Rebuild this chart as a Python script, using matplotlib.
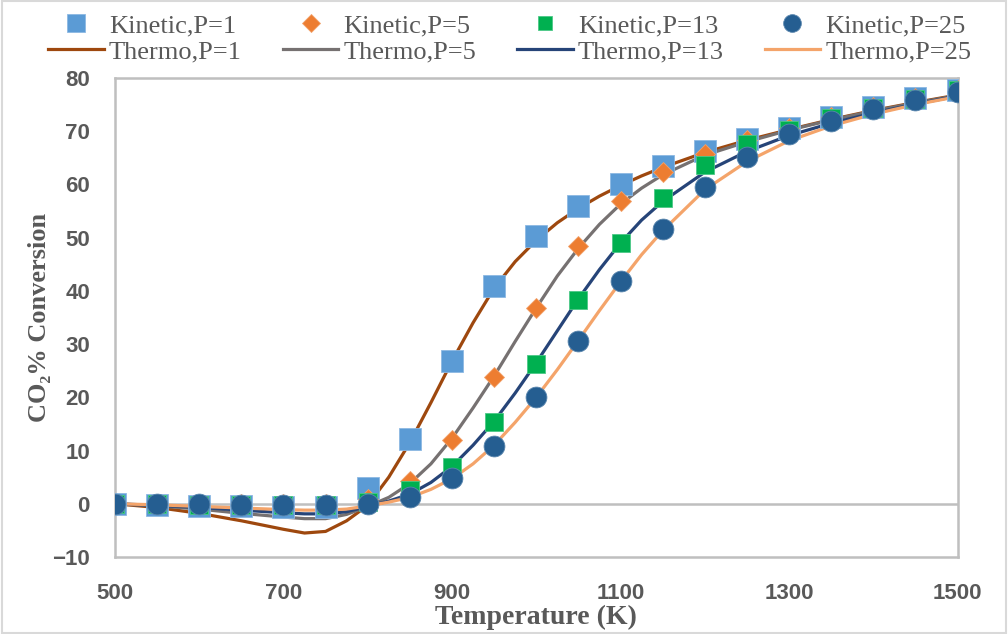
import matplotlib
matplotlib.use("Agg")
import matplotlib.pyplot as plt
from matplotlib.patches import Rectangle

# kinetic model points (K)
kin_T = [500, 550, 600, 650, 700, 750, 800, 850, 900, 950, 1000, 1050,
         1100, 1150, 1200, 1250, 1300, 1350, 1400, 1450, 1500]
kin_p1 = [0, -0.2, -0.5, -0.5, -0.7, -0.7, 3, 12.2, 26.9, 40.9, 50.4, 56,
          60, 63.4, 66.3, 68.6, 70.6, 72.6, 74.5, 76.2, 77.8]
kin_p5 = [0, 0, 0, 0, 0, 0, 0.8, 4.3, 12, 23.8, 36.8, 48.5,
          56.8, 62.3, 65.8, 68.4, 70.6, 72.6, 74.5, 76.2, 77.8]
kin_p13 = [0, 0, -0.2, -0.2, -0.3, -0.3, 0.3, 2.6, 6.9, 15.4, 26.3, 38.3,
           49, 57.5, 63.6, 67.6, 70.3, 72.5, 74.4, 76.1, 77.7]
kin_p25 = [0, 0, 0, -0.2, -0.3, -0.3, 0, 1.2, 4.8, 10.9, 20.1, 30.6,
           41.8, 51.6, 59.6, 65.1, 69.4, 72, 74.1, 75.9, 77.4]

# thermodynamic equilibrium curves
thermo_T = [500, 550, 600, 650, 700, 725, 750, 775, 800, 825, 850, 875, 900,
            925, 950, 975, 1000, 1025, 1050, 1075, 1100, 1125, 1150, 1200,
            1250, 1300, 1350, 1400, 1450, 1500]
thermo_p1 = [0, -0.7, -1.8, -3.2, -4.8, -5.5, -5.2, -3.2, -0.3, 5, 11.5, 19,
             26.8, 34, 40.5, 45.5, 49.5, 52.8, 55.5, 57.8, 59.8, 61.6, 63.2,
             66, 68.3, 70.3, 72.2, 73.9, 75.4, 76.8]
thermo_p5 = [0, -0.4, -1, -1.8, -2.5, -2.8, -2.8, -2, -0.5, 1.2, 3.8, 7.5,
             12.3, 18, 24, 30.5, 36.8, 42.8, 48, 52.5, 56.3, 59.3, 61.8,
             65.5, 68, 70.2, 72.1, 73.8, 75.3, 76.7]
thermo_p13 = [0, -0.3, -0.7, -1.2, -1.7, -1.9, -1.9, -1.5, -0.5, 0.5, 1.8, 4,
              7, 11, 15.5, 20.8, 26.5, 32.5, 38.5, 44, 49, 53.3, 56.8,
              62.3, 66.2, 69.2, 71.5, 73.4, 75.1, 76.6]
thermo_p25 = [0, -0.2, -0.5, -0.8, -1.1, -1.2, -1.2, -1, -0.4, 0.3, 1.2, 2.7,
              4.7, 7.5, 11, 15.3, 20, 25.2, 30.7, 36.3, 41.7, 46.8, 51.3,
              59, 64.3, 68.2, 71, 73.2, 75, 76.5]

x_ticks = [500, 700, 900, 1100, 1300, 1500]
y_ticks = [-10, 0, 10, 20, 30, 40, 50, 60, 70, 80]

TXT = "#595959"
GRID = "#BFBFBF"
serif = ["Liberation Serif", "DejaVu Serif"]

fig = plt.figure(figsize=(10.08, 6.34), dpi=100)
ax = fig.add_axes([0.114, 0.1215, 0.836, 0.7555])

lw = 2.3
l1, = ax.plot(thermo_T, thermo_p1, color="#9E480E", lw=lw, zorder=3)
l5, = ax.plot(thermo_T, thermo_p5, color="#767171", lw=lw, zorder=3)
l13, = ax.plot(thermo_T, thermo_p13, color="#264478", lw=lw, zorder=3)
l25, = ax.plot(thermo_T, thermo_p25, color="#F4A46A", lw=lw, zorder=3)

k1, = ax.plot(kin_T, kin_p1, "s", ms=15.5, color="#5B9BD5", mec="#8CB8E3", mew=0.6, zorder=5)
k5, = ax.plot(kin_T, kin_p5, "D", ms=10.5, color="#ED7D31", mec="#F2A26B", mew=0.6, zorder=6)
k13, = ax.plot(kin_T, kin_p13, "s", ms=12.5, color="#00B050", mec="#4CC887", mew=0.6, zorder=7)
k25, = ax.plot(kin_T, kin_p25, "o", ms=15, color="#255E91", mec="#5A86AE", mew=0.6, zorder=8)

ax.axhline(0, color=GRID, lw=1.8, zorder=1)
ax.set_xlim(500, 1500)
ax.set_ylim(-10, 80)
ax.set_xticks(x_ticks)
ax.set_yticks(y_ticks)
for s in ax.spines.values():
    s.set_color(GRID)
    s.set_linewidth(1.8)
ax.tick_params(length=0, labelsize=16, labelcolor=TXT)
ax.tick_params(axis="x", pad=19)
ax.tick_params(axis="y", pad=18)
for lab in ax.get_xticklabels() + ax.get_yticklabels():
    lab.set_fontweight("bold")
    lab.set_family(["Liberation Sans", "DejaVu Sans"])

ax.set_xlabel("Temperature (K)", family=serif, fontsize=20, fontweight="bold",
              color=TXT, labelpad=0)
ax.set_ylabel("CO\u2082% Conversion", family=serif, fontsize=19, fontweight="bold",
              color=TXT, labelpad=1)

handles = [k1, l1, k5, l5, k13, l13, k25, l25]
labels = ["Kinetic,P=1", "Thermo,P=1", "Kinetic,P=5", "Thermo,P=5",
          "Kinetic,P=13", "Thermo,P=13", "Kinetic,P=25", "Thermo,P=25"]
fig.legend(handles, labels, ncol=4, loc="upper left", bbox_to_anchor=(0.027, 1.012),
           frameon=False, prop={"family": serif, "size": 19}, labelcolor=TXT,
           handlelength=2.1, handletextpad=0.2, columnspacing=1.55,
           labelspacing=0.1, markerscale=0.85, borderpad=0.3)

fig.patches.append(Rectangle((0.002, 0.002), 0.996, 0.996, transform=fig.transFigure,
                             fill=False, edgecolor="#D9D9D9", lw=1.5))

fig.savefig("out.png", dpi=100)
